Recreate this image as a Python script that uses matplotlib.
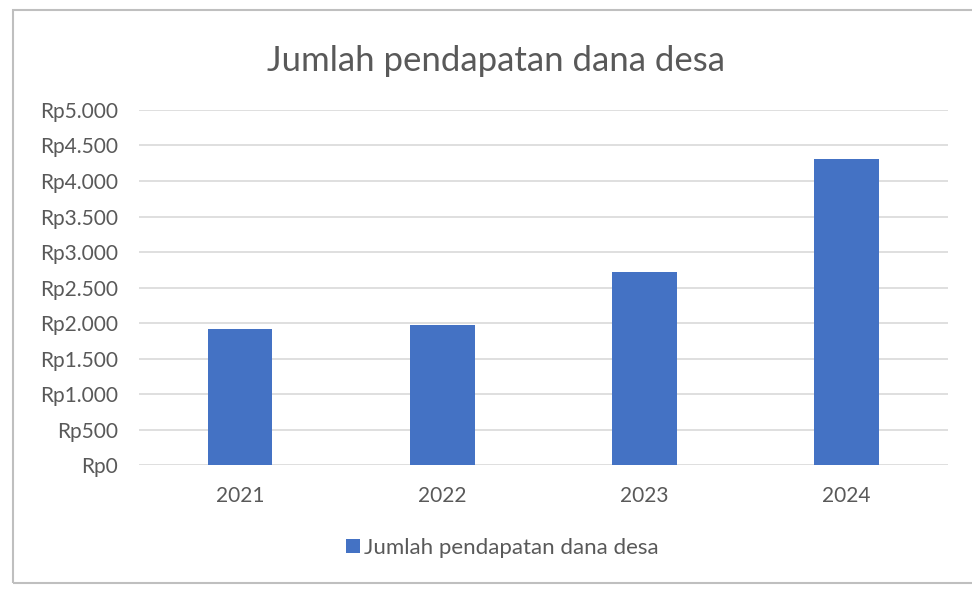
import matplotlib.pyplot as plt
from matplotlib.patches import Rectangle
from matplotlib.ticker import FuncFormatter

# Data
tahun = ['2021', '2022', '2023', '2024']
pendapatan = [1920, 1975, 2725, 4310]
judul = 'Jumlah pendapatan dana desa'

plt.rcParams['font.family'] = ['Lato', 'DejaVu Sans']
abu = '#595959'

fig = plt.figure(figsize=(9.72, 5.92), dpi=100)
ax = fig.add_axes([0.143, 0.2145, 0.832, 0.5997])

x = range(len(tahun))
ax.bar(x, pendapatan, width=0.32, color='#4472C4', label=judul, zorder=3)

ax.set_xlim(-0.5, len(tahun) - 0.5)
ax.set_ylim(0, 5000)
ax.set_yticks(range(0, 5001, 500))
ax.yaxis.set_major_formatter(
    FuncFormatter(lambda v, p: 'Rp' + f'{int(v):,}'.replace(',', '.')))
ax.set_xticks(list(x))
ax.set_xticklabels(tahun)

ax.grid(axis='y', color='#D9D9D9', linewidth=1.2, zorder=0)
for s in ax.spines.values():
    s.set_visible(False)
ax.tick_params(axis='both', length=0, labelsize=15, colors=abu)
ax.tick_params(axis='y', pad=15)
ax.tick_params(axis='x', pad=15)

fig.text(0.51, 0.897, judul, ha='center', va='center', fontsize=25, color=abu)

leg = fig.legend(loc='center', bbox_to_anchor=(0.517, 0.074), frameon=False,
                 fontsize=16, handlelength=0.6, handleheight=0.6,
                 handletextpad=0.2)
for t in leg.get_texts():
    t.set_color(abu)

# chart border
fig.patches.append(Rectangle((0.013, 0.015), 1.2, 0.968, transform=fig.transFigure,
                             fill=False, edgecolor='#BFBFBF', linewidth=1.5))

fig.savefig('out.png', dpi=100)
